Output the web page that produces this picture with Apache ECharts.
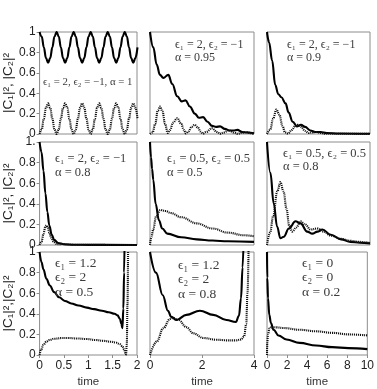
<!DOCTYPE html>
<html>
<head>
<meta charset="utf-8">
<script src="https://cdn.jsdelivr.net/npm/echarts@6/dist/echarts.min.js"></script>
<style>html,body{margin:0;padding:0;background:#fff;}#c{width:377px;height:389px;}</style>
</head>
<body>
<div id="c"></div>
<script>
// ---------- DATA ----------
// Row 1, col 1 : eps1=2, eps2=-1, alpha=1
const p11T  = [0,0.125,0.25,0.375,0.5,0.625,0.75,0.875,1,1.125,1.25,1.375,1.5,1.625,1.75,1.875,2,2.125,2.25,2.375,2.5,2.625,2.75,2.875,3,3.125,3.25,3.375,3.5,3.625,3.75,3.875,4,4.125,4.25,4.375,4.5,4.625,4.75,4.875,5,5.125,5.25,5.375,5.5,5.625,5.75];
const p11C1 = [1,0.956,0.85,0.744,0.7,0.744,0.85,0.956,1,0.956,0.85,0.744,0.7,0.744,0.85,0.956,1,0.956,0.85,0.744,0.7,0.744,0.85,0.956,1,0.956,0.85,0.744,0.7,0.744,0.85,0.956,1,0.956,0.85,0.744,0.7,0.744,0.85,0.956,1,0.956,0.85,0.744,0.7,0.744,0.85];
const p11C2 = [0,0.044,0.15,0.256,0.3,0.256,0.15,0.044,0,0.044,0.15,0.256,0.3,0.256,0.15,0.044,0,0.044,0.15,0.256,0.3,0.256,0.15,0.044,0,0.044,0.15,0.256,0.3,0.256,0.15,0.044,0,0.044,0.15,0.256,0.3,0.256,0.15,0.044,0,0.044,0.15,0.256,0.3,0.256,0.15];
// Row 1, col 2 : eps1=2, eps2=-1, alpha=0.95
const p12T1 = [0,0.32,0.64,0.96,1.28,1.76,2.14,2.62,3.04,3.42,3.83,4.31,4.7,5.11,5.53,5.97,6.36,6.74,7.19,7.64,8.02,8.4,8.85,9.3,9.68,10];
const p12C1 = [1.0,0.85,0.68,0.58,0.55,0.58,0.49,0.37,0.32,0.33,0.27,0.2,0.16,0.165,0.12,0.08,0.07,0.075,0.05,0.035,0.035,0.04,0.02,0.015,0.012,0.008];
const p12T2 = [0,0.25,0.5,0.75,0.96,1.2,1.45,1.7,1.95,2.2,2.62,3.0,3.25,3.45,3.7,4.0,4.3,4.6,4.85,5.1,5.4,5.95,6.45,6.75,7.1,7.6,8.1,8.4,8.8,9.27,9.7,10];
const p12C2 = [0,0.015,0.1,0.23,0.27,0.22,0.1,0.01,0.04,0.11,0.155,0.1,0.04,0.005,0.025,0.07,0.09,0.065,0.025,0.004,0.02,0.055,0.02,0.003,0.015,0.035,0.012,0.002,0.01,0.02,0.008,0.002];
// Row 1, col 3 : eps1=2, eps2=-1, alpha=0.9
const p13T1 = [0,0.2,0.5,0.8,1.1,1.4,1.8,2.1,2.5,2.9,3.3,3.7,4.2,4.7,5.2,5.8,7,10];
const p13C1 = [1.0,0.9,0.72,0.48,0.39,0.36,0.3,0.21,0.12,0.075,0.09,0.07,0.035,0.02,0.02,0.01,0.005,0.002];
const p13T2 = [0,0.3,0.6,0.9,1.2,1.5,1.75,2.05,2.4,2.75,3.0,3.3,3.7,4.05,4.4,4.8,5.2,5.6,7,10];
const p13C2 = [0,0.04,0.15,0.24,0.19,0.08,0.015,0.005,0.04,0.08,0.09,0.07,0.03,0.01,0.015,0.02,0.01,0.003,0.002,0.001];
// Row 2, col 1 : eps1=2, eps2=-1, alpha=0.8
const p21T1 = [0,0.2,0.4,0.6,0.8,1.0,1.25,1.5,1.9,2.5,3.5,5,10];
const p21C1 = [1,0.9,0.72,0.5,0.32,0.19,0.1,0.05,0.02,0.008,0.003,0.001,0];
const p21T2 = [0,0.2,0.4,0.6,0.71,0.85,1.0,1.2,1.45,1.7,2.0,2.4,2.9,4,10];
const p21C2 = [0,0.03,0.11,0.18,0.19,0.17,0.12,0.07,0.03,0.012,0.008,0.01,0.005,0.001,0];
// Row 2, col 2 : eps1=0.5, eps2=0.5, alpha=0.5
const p22T1 = [0,0.1,0.2,0.32,0.54,0.86,1.18,1.66,3,4.5,6,7.5,10];
const p22C1 = [1,0.85,0.74,0.63,0.4,0.24,0.16,0.11,0.075,0.055,0.043,0.036,0.03];
const p22T2 = [0,0.15,0.3,0.6,1.0,1.5,2,3,4.5,6,7.5,9,10];
const p22C2 = [0,0.08,0.15,0.28,0.34,0.33,0.31,0.27,0.21,0.16,0.12,0.095,0.085];
// Row 2, col 3 : eps1=0.5, eps2=0.5, alpha=0.8
const p23T1 = [0,0.33,0.65,0.98,1.3,1.63,2.12,2.77,3.26,3.9,4.4,4.9,5.37,6.2,7.2,8.1,9,10];
const p23C1 = [1.0,0.7,0.405,0.18,0.065,0.08,0.16,0.23,0.21,0.13,0.11,0.13,0.15,0.1,0.055,0.03,0.022,0.016];
const p23T2 = [0,0.3,0.6,1.0,1.3,1.6,1.9,2.15,2.44,2.85,3.26,3.7,4.23,4.9,5.5,6.2,7.2,8.1,9,10];
const p23C2 = [0,0.12,0.28,0.52,0.61,0.52,0.35,0.19,0.13,0.17,0.23,0.2,0.15,0.16,0.13,0.09,0.06,0.04,0.03,0.02];
// Row 3, col 1 : eps1=1.2, eps2=2, alpha=0.5
const p31T1 = [0,0.04,0.08,0.14,0.21,0.3,0.4,0.52,0.65,0.8,0.97,1.12,1.28,1.42,1.54,1.6,1.65,1.68,1.70,1.72,1.735,1.75];
const p31C1 = [1.0,0.9,0.83,0.74,0.675,0.61,0.56,0.525,0.5,0.48,0.46,0.445,0.43,0.415,0.4,0.385,0.35,0.3,0.26,0.45,0.8,1.3];
const p31T2 = [0,0.03,0.08,0.14,0.2,0.3,0.46,0.6,0.78,0.97,1.16,1.32,1.47,1.57,1.64,1.7,1.74,1.76,1.775,1.79,1.805,1.82];
const p31C2 = [0,0.05,0.1,0.13,0.145,0.158,0.165,0.165,0.16,0.155,0.145,0.137,0.128,0.12,0.108,0.085,0.05,0.02,0.005,0.1,0.5,1.3];
// Row 3, col 2 : eps1=1.2, eps2=2, alpha=0.8
const p32T1 = [0,0.23,0.49,0.69,0.82,1.02,1.4,1.92,2.43,2.94,3.3,3.42,3.5,3.56,3.62];
const p32C1 = [1,0.8,0.58,0.43,0.37,0.34,0.39,0.43,0.39,0.34,0.32,0.38,0.55,0.85,1.3];
const p32T2 = [0,0.26,0.51,0.77,0.9,1.1,1.4,1.67,2.05,2.56,3.0,3.3,3.5,3.62,3.7,3.75,3.8];
const p32C2 = [0,0.13,0.26,0.35,0.36,0.34,0.27,0.21,0.165,0.148,0.142,0.142,0.15,0.18,0.3,0.6,1.2];
// Row 3, col 3 : eps1=0, eps2=0, alpha=0.2
const p33T1 = [0,0.03,0.1,0.23,0.39,0.65,1.14,1.95,3.26,4.9,6.5,8.1,10];
const p33C1 = [1,0.75,0.55,0.39,0.31,0.245,0.19,0.15,0.118,0.092,0.076,0.067,0.057];
const p33T2 = [0,0.03,0.1,0.26,0.5,1.0,1.6,3.26,4.9,6.5,8.1,10];
const p33C2 = [0,0.12,0.2,0.26,0.27,0.268,0.262,0.245,0.23,0.215,0.2,0.19];

// axis ranges and tick labels
const xMax = [5.72, 10, 10, 10, 10, 10, 2, 4, 10];
const xInterval = [1, 2, 2, 2, 2, 2, 0.5, 2, 2];
const yTickLabels = ['0', '0.2', '0.4', '0.6', '0.8', '1'];
const yTickLabelsRow2 = ['0', '0.2', '0.4', '0.6', '0.8', '1.'];
const yName = ['|C\u2081|\u00b2, |C\u2082|\u00b2', '|C\u2081|\u00b2, |C\u2082|\u00b2', '|C\u2081|\u00b2,|C\u2082|\u00b2'];
const xName = 'time';

const notes = [
  ['\u03f5\u2081 = 2, \u03f5\u2082 = \u22121, \u03b1 = 1'],
  ['\u03f5\u2081 = 2, \u03f5\u2082 = \u22121', '\u03b1 = 0.95'],
  ['\u03f5\u2081 = 2, \u03f5\u2082 = \u22121', '\u03b1 = 0.9'],
  ['\u03f5\u2081 = 2, \u03f5\u2082 = \u22121', '\u03b1 = 0.8'],
  ['\u03f5\u2081 = 0.5, \u03f5\u2082 = 0.5', '\u03b1 = 0.5'],
  ['\u03f5\u2081 = 0.5, \u03f5\u2082 = 0.5', '\u03b1 = 0.8'],
  ['\u03f5\u2081 = 1.2', '\u03f5\u2082 = 2', '\u03b1 = 0.5'],
  ['\u03f5\u2081 = 1.2', '\u03f5\u2082 = 2', '\u03b1 = 0.8'],
  ['\u03f5\u2081 = 0', '\u03f5\u2082 = 0', '\u03b1 = 0.2']
];

const panels = [
  [p11T, p11C1, p11T, p11C2],
  [p12T1, p12C1, p12T2, p12C2],
  [p13T1, p13C1, p13T2, p13C2],
  [p21T1, p21C1, p21T2, p21C2],
  [p22T1, p22C1, p22T2, p22C2],
  [p23T1, p23C1, p23T2, p23C2],
  [p31T1, p31C1, p31T2, p31C2],
  [p32T1, p32C1, p32T2, p32C2],
  [p33T1, p33C1, p33T2, p33C2]
];

// ---------- LAYOUT ----------
const colLeft = [32, 150, 267];
const colW = [105, 104, 103];
const rowTop = [32, 142, 252];
const rowH = [102, 103, 105];
// annotation placement: [x, first line center y, line step, font size]
const notePos = [
  [43, 82, 0, 10.8],
  [175, 45, 12.5, 12],
  [287, 45, 12.5, 12],
  [55, 159, 14, 12.5],
  [167, 159, 14, 12.5],
  [283, 154, 13, 12.5],
  [55, 263, 14.5, 13.5],
  [178, 265, 14.5, 13.5],
  [302, 263, 14.5, 13.5]
];

const pair = (t, v) => t.map((x, i) => [x, v[i]]);

const grid = [], xAxis = [], yAxis = [], series = [], graphic = [];
for (let i = 0; i < 9; i++) {
  const r = Math.floor(i / 3), c = i % 3;
  grid.push({left: colLeft[c], top: rowTop[r], width: colW[c], height: rowH[r],
    show: true, borderColor: '#8c8c8c', borderWidth: 1, backgroundColor: 'transparent'});
  const bottomRow = r === 2;
  xAxis.push({type: 'value', gridIndex: i, min: 0, max: xMax[i], interval: xInterval[i],
    axisLine: {show: false}, splitLine: {show: false},
    axisTick: {show: bottomRow, length: 3, lineStyle: {color: '#8c8c8c'}},
    axisLabel: {show: bottomRow, margin: 5, color: '#222', fontSize: 12, fontFamily: 'Liberation Sans, Arial, sans-serif'},
    name: bottomRow ? xName : '', nameLocation: 'middle', nameGap: 21,
    nameTextStyle: {color: '#333', fontSize: 11.5, fontFamily: 'Liberation Sans, Arial, sans-serif'}});
  const labels = r === 1 ? yTickLabelsRow2 : yTickLabels;
  yAxis.push({type: 'value', gridIndex: i, min: 0, max: 1, interval: 0.2,
    axisLine: {show: false}, splitLine: {show: false},
    axisTick: {show: c === 0, length: 3, lineStyle: {color: '#8c8c8c'}},
    axisLabel: {show: c === 0, margin: 4, color: '#222', fontSize: 12, fontFamily: 'Liberation Sans, Arial, sans-serif',
      formatter: v => labels[Math.round(v * 5)]},
    name: c === 0 ? yName[r] : '', nameLocation: 'middle', nameGap: 15, nameRotate: 90,
    nameTextStyle: {color: '#222', fontSize: 13.5, fontFamily: 'Liberation Sans, Arial, sans-serif'}});
  const [t1, v1, t2, v2] = panels[i];
  series.push({type: 'line', xAxisIndex: i, yAxisIndex: i, data: pair(t1, v1), showSymbol: false,
    smooth: 0.4, smoothMonotone: 'x', clip: true,
    lineStyle: {color: '#000', width: 2.1}});
  series.push({type: 'line', xAxisIndex: i, yAxisIndex: i, data: pair(t2, v2), showSymbol: false,
    smooth: 0.4, smoothMonotone: 'x', clip: true,
    lineStyle: {color: '#111', width: 2.1, type: [1.1, 0.9]}});
  const [nx, ny, step, fs] = notePos[i];
  notes[i].forEach((txt, k) => {
    graphic.push({type: 'text', x: nx, y: ny + k * step, z: 100,
      style: {text: txt, fill: '#3c3c3c', font: fs + 'px "Liberation Serif", "DejaVu Serif", serif',
        verticalAlign: 'middle', align: 'left'}});
  });
}

const chart = echarts.init(document.getElementById('c'), null, {renderer: 'canvas'});
chart.setOption({animation: false, backgroundColor: '#fff', grid, xAxis, yAxis, series, graphic});
</script>
</body>
</html>
